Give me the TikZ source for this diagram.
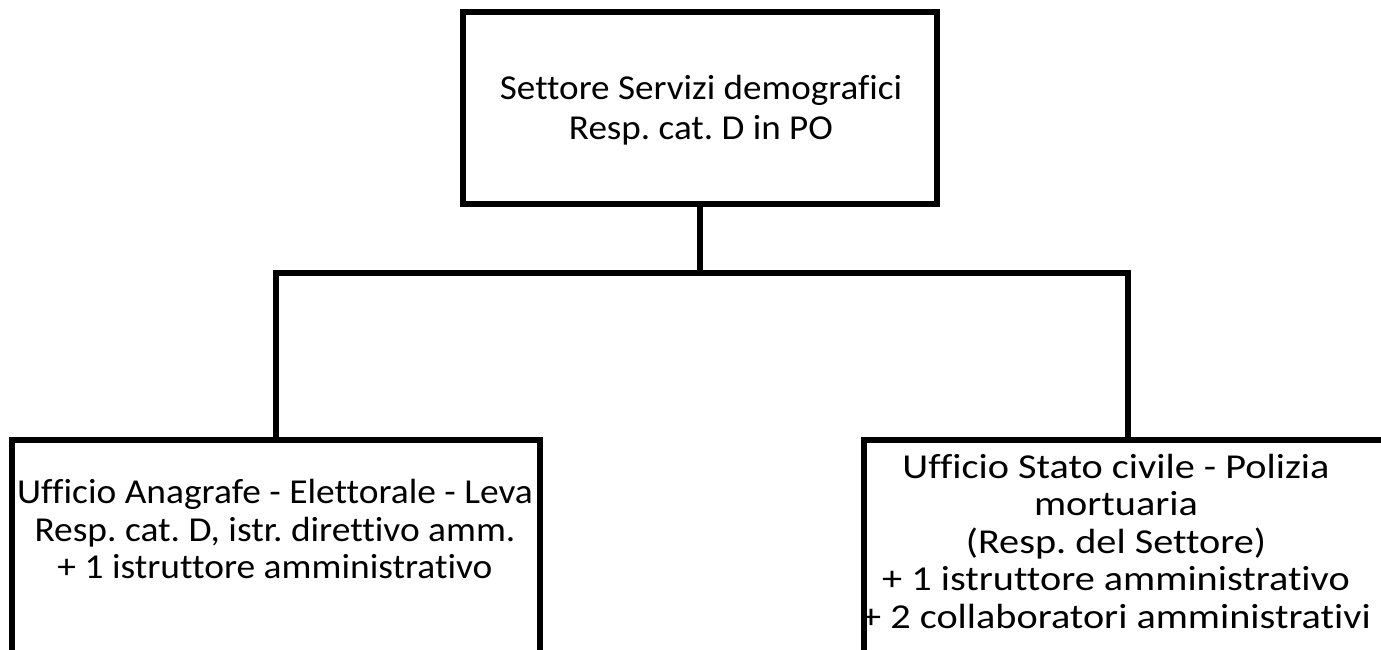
\documentclass[tikz,border=0pt]{standalone}
\usepackage{fontspec}
\setmainfont[Ligatures=NoCommon]{Carlito}
\frenchspacing
\begin{document}
\begin{tikzpicture}[x=1pt,y=-1pt,
  box/.style={draw=black,line width=5.5pt,rectangle,inner sep=0pt},
  lbl/.style={align=center,font=\fontsize{35}{40}\selectfont\frenchspacing,inner sep=0pt},
  sublbl/.style={lbl,font=\fontsize{35}{37.5}\selectfont\frenchspacing},
  conn/.style={draw=black,line width=5.5pt}]
\useasboundingbox (0,0) rectangle (1381,650);
\clip (0,0) rectangle (1381,650);
\node[box,minimum width=474pt,minimum height=192pt] (top) at (700,108) {};
\node[box,minimum width=528pt,minimum height=280pt] (left) at (276,580) {};
\node[box,minimum width=528pt,minimum height=280pt] (right) at (1128,580) {};
\node[lbl,xscale=1.06] (toptxt) at (701,110) {Settore Servizi demografici\\Resp. cat. D in PO};
\node[sublbl,xscale=1.07] (lefttxt) at (275,529) {Ufficio Anagrafe - Elettorale - Leva\\Resp. cat. D, istr. direttivo amm.\\+ 1 istruttore amministrativo};
\node[sublbl,xscale=1.15] (righttxt) at (1116,541) {Ufficio Stato civile - Polizia\\mortuaria\\(Resp. del Settore)\\+ 1 istruttore amministrativo\\+ 2 collaboratori amministrativi};
\coordinate (j) at (700,273);
\draw[conn] (top.south) -- (j);
\draw[conn] (left.north) |- (j) -| (right.north);
\end{tikzpicture}
\end{document}
